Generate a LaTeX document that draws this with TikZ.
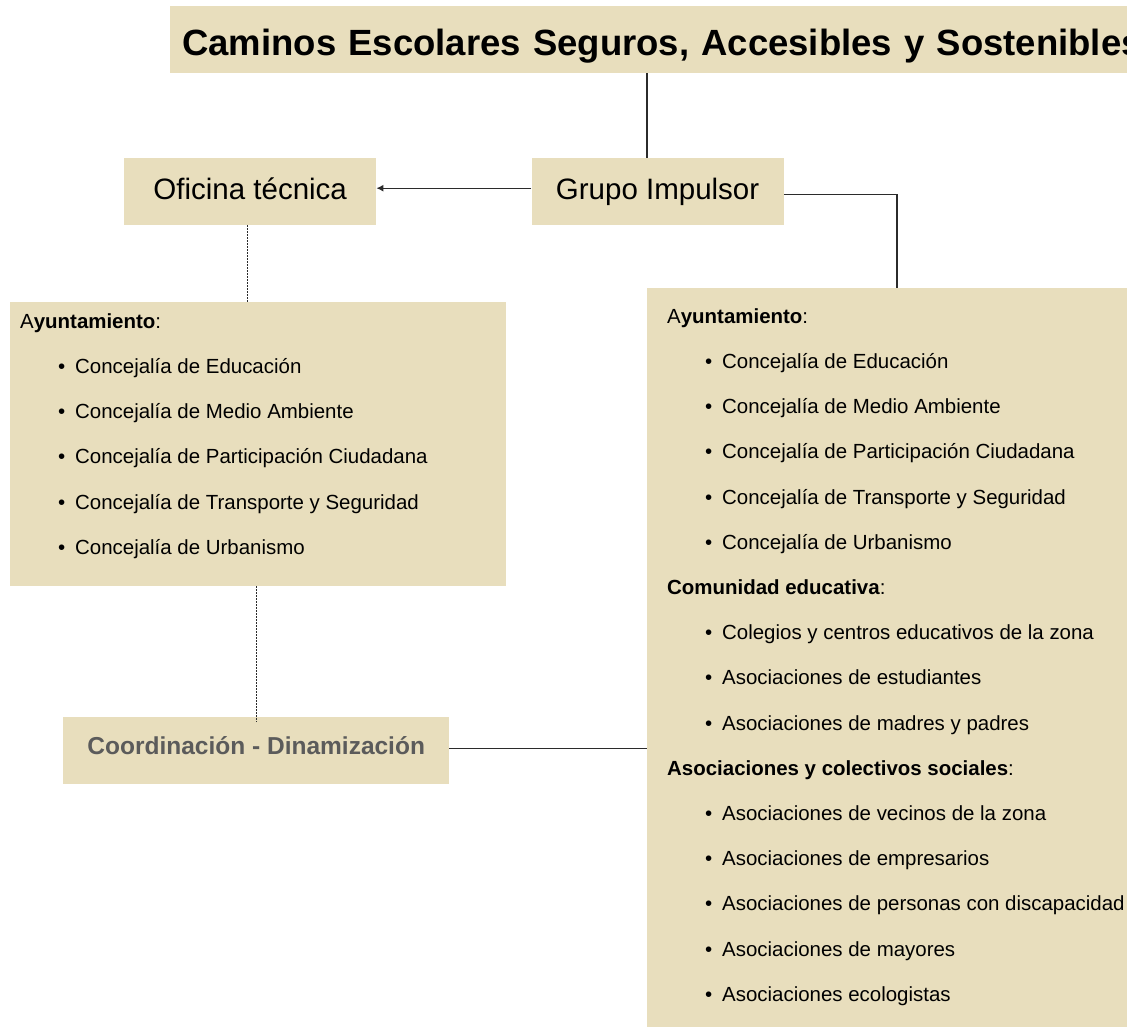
\documentclass[tikz,border=0pt]{standalone}
\usepackage{fontspec}
\setmainfont{Liberation Sans}
\usepackage{tikz}
\usetikzlibrary{positioning,arrows.meta,calc}
\definecolor{caja}{HTML}{E8DEBD}
\definecolor{textogris}{HTML}{5B5B5B}
\definecolor{linea}{HTML}{2B2B2B}
\tikzstyle{arrow} = [linea, line width=1.2pt, -{Latex[length=7pt,width=7pt]}]
\tikzstyle{line} = [linea, line width=1.2pt]
\tikzstyle{punteado} = [linea, line width=1.4pt, dash pattern=on 1.4pt off 1.6pt]
\newcommand{\vineta}[1]{\\\hspace*{38pt}\makebox[17pt][l]{•}#1}
\begin{document}
\begin{tikzpicture}[x=1pt, y=-1pt]
\tikzset{%
	caja/.style = { rectangle, fill=caja, inner sep=0pt },
	titulo/.style = { caja, minimum width=1000pt, inner xsep=12pt, text width=976pt, align=left, text height=49pt, text depth=18pt, font=\fontsize{36.5}{40}\selectfont\bfseries },
	grupo/.style = { caja, minimum width=252pt, text height=41pt, text depth=26pt, font=\fontsize{29.5}{32}\selectfont },
	coord/.style = { caja, minimum width=386pt, text height=37pt, text depth=30pt, text=textogris, font=\fontsize{24.5}{28}\selectfont\bfseries },
	lista/.style = { caja, anchor=north west, font=\fontsize{20.45}{45.2}\selectfont }
}
\useasboundingbox (0,0) rectangle (1127,1027);
\clip (0,0) rectangle (1127,1027);

\node(Titulo)		[titulo, anchor=north west] at (170,6)
								{Caminos Escolares Seguros, Accesibles y Sostenibles};
\node(Oficina)		[grupo, anchor=north west] at (124,158)
								{Oficina técnica};
\node(Grupo)		[grupo, right=155pt of Oficina]
								{Grupo Impulsor};

\node(Izquierda)	[lista] at (10,302)
	{\parbox[c][284pt][t]{496pt}{\leftskip=10pt
		\rule{0pt}{26pt}A\textbf{yuntamiento}:
		\vineta{Concejalía de Educación}
		\vineta{Concejalía de Medio Ambiente}
		\vineta{Concejalía de Participación Ciudadana}
		\vineta{Concejalía de Transporte y Seguridad}
		\vineta{Concejalía de Urbanismo}}};

\node(Derecha)		[lista] at (647,288)
	{\parbox[c][745pt][t]{500pt}{\leftskip=20pt
		\rule{0pt}{35pt}A\textbf{yuntamiento}:
		\vineta{Concejalía de Educación}
		\vineta{Concejalía de Medio Ambiente}
		\vineta{Concejalía de Participación Ciudadana}
		\vineta{Concejalía de Transporte y Seguridad}
		\vineta{Concejalía de Urbanismo}
		\\\textbf{Comunidad educativa}:
		\vineta{Colegios y centros educativos de la zona}
		\vineta{Asociaciones de estudiantes}
		\vineta{Asociaciones de madres y padres}
		\\\textbf{Asociaciones y colectivos sociales}:
		\vineta{Asociaciones de vecinos de la zona}
		\vineta{Asociaciones de empresarios}
		\vineta{Asociaciones de personas con discapacidad}
		\vineta{Asociaciones de mayores}
		\vineta{Asociaciones ecologistas}}};

\node(Coordinacion)	[coord, anchor=north west] at (63,717)
								{Coordinación - Dinamización};

\draw [line]		(Titulo.south -| Derecha.west) -- (Grupo.north -| Derecha.west);
\draw [arrow]		([yshift=3.5pt]Grupo.west) -- ([yshift=3.5pt]Oficina.east);
\draw [line]		([yshift=-2.5pt]Grupo.east) -| ([xshift=250pt]Derecha.north west);

\draw [punteado]	([xshift=-3pt]Oficina.south) -- ([xshift=-3pt]Oficina.south |- Izquierda.north);
\draw [punteado]	(Izquierda.south -| Coordinacion.north) -- ([yshift=-5pt]Coordinacion.north);

\draw [line]		([yshift=2.5pt]Coordinacion.east) -- ([yshift=2.5pt]Coordinacion.east -| Derecha.west);
\end{tikzpicture}
\end{document}
